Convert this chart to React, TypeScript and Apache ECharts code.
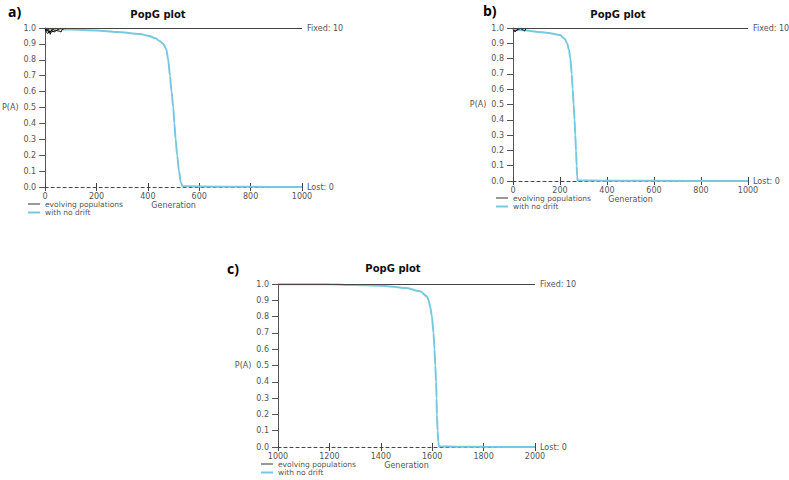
import React, { useEffect, useRef } from "react";
import * as echarts from "echarts";

// ---------- data ----------
const panelLabels = ["a)", "b)", "c)"];
const titleText = "PopG plot";
const xRanges = [
  [0, 1000],
  [0, 1000],
  [1000, 2000],
];
const fixedCounts = [10, 10, 10];
const lostCounts = [0, 0, 0];

// no-drift curves: [generation, P(A)]
const noDriftA = [
  [0, 0.995], [100, 0.99], [200, 0.985], [280, 0.975], [370, 0.962], [400, 0.952],
  [430, 0.935], [447, 0.916], [460, 0.9], [472, 0.865], [479, 0.8], [486, 0.7],
  [492, 0.6], [499, 0.5], [503, 0.4], [508, 0.3], [514, 0.2], [521, 0.1],
  [528, 0.03], [535, 0.005], [600, 0.003], [800, 0.001], [1000, 0],
];
const noDriftB = [
  [0, 0.99], [50, 0.985], [100, 0.976], [150, 0.968], [200, 0.954], [220, 0.93],
  [230, 0.9], [238, 0.86], [244, 0.8], [250, 0.7], [254, 0.6], [258, 0.5],
  [262, 0.4], [265, 0.3], [268, 0.2], [271, 0.1], [273, 0.03], [275, 0.005],
  [400, 0.002], [600, 0.001], [1000, 0],
];
const noDriftC = [
  [1000, 0.999], [1100, 0.999], [1200, 0.998], [1300, 0.994], [1400, 0.99],
  [1500, 0.975], [1553, 0.955], [1579, 0.925], [1586, 0.9], [1592, 0.86],
  [1599, 0.8], [1605, 0.7], [1609, 0.6], [1612, 0.5], [1615, 0.4], [1617, 0.3],
  [1618, 0.2], [1621, 0.1], [1624, 0.03], [1626, 0.005], [1700, 0.002],
  [1800, 0.001], [2000, 0],
];

// evolving populations (drift), visible only near the start
const driftA = [
  [[0, 0.99], [5, 0.975], [10, 0.965], [15, 0.975], [22, 0.98], [30, 0.99], [40, 1.0]],
  [[0, 0.985], [8, 0.99], [16, 0.97], [25, 0.985], [35, 0.975], [50, 0.99], [60, 1.0]],
  [[0, 0.99], [12, 0.98], [25, 0.975], [40, 0.985], [55, 0.98], [62, 0.975], [66, 0.99], [80, 1.0]],
  [[0, 0.995], [6, 0.985], [14, 0.99], [20, 0.96], [24, 0.985], [32, 1.0]],
];
const driftB = [
  [[0, 0.99], [8, 0.975], [15, 0.985], [25, 1.0]],
  [[0, 0.985], [12, 0.98], [22, 0.99], [35, 1.0]],
  [[30, 1.0], [38, 0.99], [45, 0.985], [50, 0.98], [56, 1.0]],
];
const driftC: number[][][] = [];

const noDrift = [noDriftA, noDriftB, noDriftC];
const drift = [driftA, driftB, driftC];

// ---------- layout ----------
const grids = [
  { left: 45, top: 28, width: 257, height: 159 },
  { left: 513, top: 28, width: 235, height: 153 },
  { left: 278, top: 284, width: 257, height: 163 },
];
const titlePos = [
  [158, 14],
  [618, 14],
  [393, 268],
];
const letterPos = [
  [8, 11],
  [483, 10],
  [227, 268],
];

const CYAN = "#78c8e0";
const DARK = "#444";
const TXT = "#555";
const FONT = "DejaVu Sans";

export default function App() {
  const ref = useRef<HTMLDivElement>(null);
  useEffect(() => {
    if (!ref.current) return;
    const chart = echarts.init(ref.current, undefined, { renderer: "svg" });

    const xAxis: any[] = [];
    const yAxis: any[] = [];
    const series: any[] = [];
    const graphic: any[] = [];

    const sideLabel = (text: string) => ({
      show: true,
      position: "end",
      formatter: text,
      fontFamily: FONT,
      fontSize: 8,
      color: TXT,
      distance: 5,
    });

    grids.forEach((g, i) => {
      const [xmin, xmax] = xRanges[i];
      xAxis.push({
        type: "value",
        gridIndex: i,
        min: xmin,
        max: xmax,
        interval: 200,
        position: "bottom",
        name: "Generation",
        nameLocation: "middle",
        nameGap: 14,
        nameTextStyle: { fontFamily: FONT, fontSize: 8, color: TXT },
        axisLine: { show: true, lineStyle: { color: DARK, width: 1, type: [3, 3] } },
        axisTick: { show: true, length: 4, lineStyle: { color: DARK } },
        axisLabel: {
          fontFamily: FONT,
          fontSize: 8,
          color: TXT,
          margin: 5,
          formatter: (v: number) => String(v),
        },
        splitLine: { show: false },
      });
      xAxis.push({
        type: "value",
        gridIndex: i,
        min: xmin,
        max: xmax,
        interval: 200,
        position: "bottom",
        offset: 0,
        axisLine: { show: false },
        axisTick: { show: true, inside: true, length: 4, lineStyle: { color: DARK } },
        axisLabel: { show: false },
        splitLine: { show: false },
      });
      yAxis.push({
        type: "value",
        gridIndex: i,
        min: 0,
        max: 1,
        interval: 0.1,
        name: "P(A)",
        nameLocation: "middle",
        nameRotate: 0,
        nameGap: 25,
        nameTextStyle: { fontFamily: FONT, fontSize: 8, color: TXT },
        axisLine: { show: true, lineStyle: { color: "#555", width: 1 } },
        axisTick: { show: true, length: 6, lineStyle: { color: "#555" } },
        axisLabel: {
          fontFamily: FONT,
          fontSize: 8,
          color: TXT,
          margin: 9,
          formatter: (v: number) => v.toFixed(1),
        },
        splitLine: { show: false },
      });

      // no-drift curve with fixed / lost markers
      series.push({
        type: "line",
        xAxisIndex: i * 2,
        yAxisIndex: i,
        data: noDrift[i],
        showSymbol: false,
        smooth: 0.3,
        smoothMonotone: "x",
        lineStyle: { color: CYAN, width: 2 },
        z: 3,
        markLine: {
          silent: true,
          symbol: ["none", "none"],
          animation: false,
          data: [
            [
              {
                coord: [xmin, 1],
                lineStyle: { color: DARK, width: 1, type: "solid" },
                label: sideLabel("Fixed: " + fixedCounts[i]),
              },
              { coord: [xmax, 1] },
            ],
            [
              {
                coord: [xmin, 0],
                lineStyle: { color: "rgba(0,0,0,0)", width: 1, type: "solid" },
                label: sideLabel("Lost: " + lostCounts[i]),
              },
              { coord: [xmax, 0] },
            ],
          ],
        },
      });

      drift[i].forEach((d) => {
        series.push({
          type: "line",
          xAxisIndex: i * 2,
          yAxisIndex: i,
          data: d,
          showSymbol: false,
          lineStyle: { color: "#111", width: 1 },
          z: 4,
        });
      });

      // titles, panel letters, legends
      graphic.push({
        type: "text",
        x: titlePos[i][0],
        y: titlePos[i][1],
        style: {
          text: titleText,
          fontFamily: FONT,
          fontSize: 10,
          fontWeight: "bold",
          fill: "#111",
          align: "center",
          verticalAlign: "middle",
        },
      });
      graphic.push({
        type: "text",
        x: letterPos[i][0],
        y: letterPos[i][1],
        style: {
          text: panelLabels[i],
          fontFamily: "Open Sans",
          fontSize: 14,
          fontWeight: "bold",
          fill: "#000",
          align: "left",
          verticalAlign: "middle",
        },
      });
      const ly = g.top + g.height + 17;
      const lx = g.left - 17;
      const gap = 8.5;
      graphic.push({
        type: "line",
        shape: { x1: lx, y1: ly, x2: lx + 12, y2: ly },
        style: { stroke: "#333", lineWidth: 1 },
      });
      graphic.push({
        type: "line",
        shape: { x1: lx, y1: ly + gap, x2: lx + 12, y2: ly + gap },
        style: { stroke: CYAN, lineWidth: 2 },
      });
      graphic.push({
        type: "text",
        x: g.left,
        y: ly,
        style: {
          text: "evolving populations",
          fontFamily: FONT,
          fontSize: 7.5,
          lineHeight: 8,
          fill: TXT,
          verticalAlign: "middle",
        },
      });
      graphic.push({
        type: "text",
        x: g.left,
        y: ly + gap,
        style: {
          text: "with no drift",
          fontFamily: FONT,
          fontSize: 7.5,
          lineHeight: 8,
          fill: TXT,
          verticalAlign: "middle",
        },
      });
    });

    chart.setOption({
      animation: false,
      backgroundColor: "#ffffff",
      grid: grids.map((g) => ({ ...g, containLabel: false })),
      xAxis,
      yAxis,
      series,
      graphic,
    });
    return () => chart.dispose();
  }, []);

  return (
    <div
      ref={ref}
      style={{ position: "absolute", left: 0, top: 0, width: 789, height: 480 }}
    />
  );
}
